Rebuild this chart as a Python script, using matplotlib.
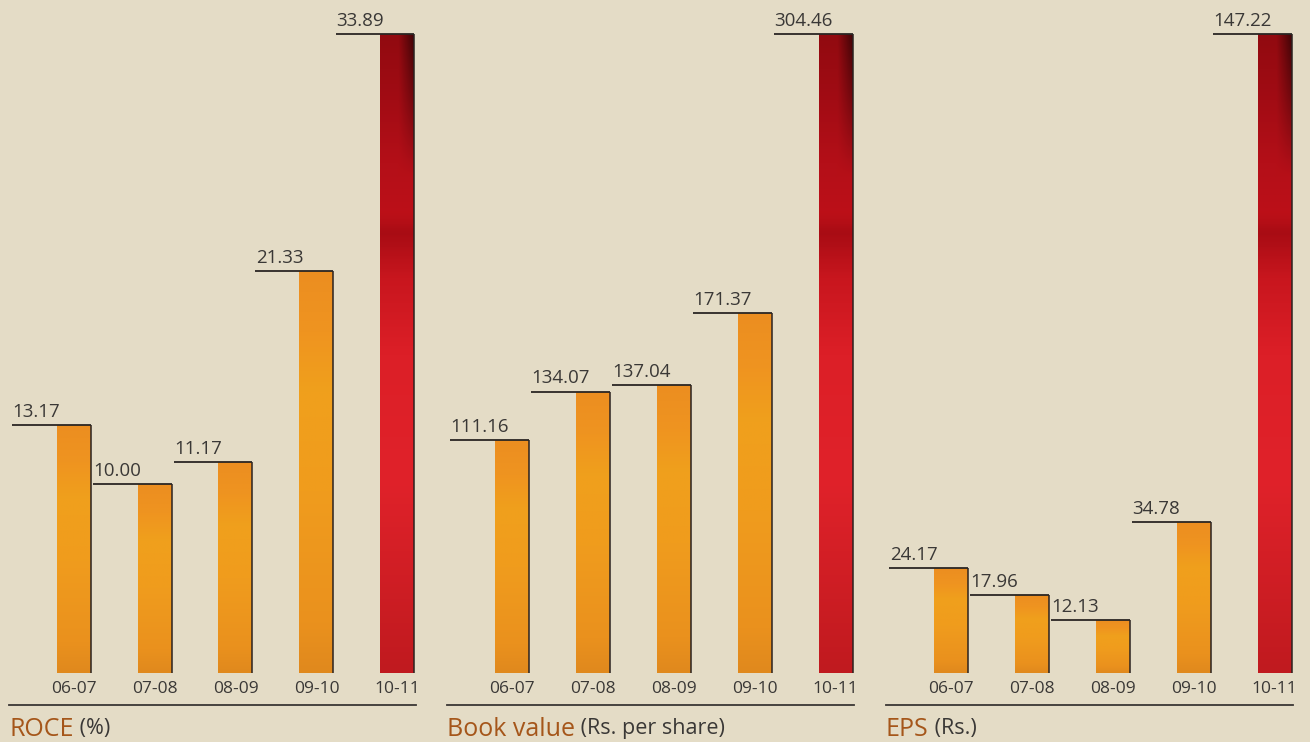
import numpy as np
import matplotlib
matplotlib.use("Agg")
import matplotlib.pyplot as plt
from matplotlib.colors import LinearSegmentedColormap

plt.rcParams['font.family'] = ['Open Sans', 'DejaVu Sans']

years = ["06-07", "07-08", "08-09", "09-10", "10-11"]
roce = [13.17, 10.00, 11.17, 21.33, 33.89]
book_value = [111.16, 134.07, 137.04, 171.37, 304.46]
eps = [24.17, 17.96, 12.13, 34.78, 147.22]
titles = ["ROCE", "Book value", "EPS"]
units = ["(%)", "(Rs. per share)", "(Rs.)"]
series = [roce, book_value, eps]

BG = "#e4dcc6"
TXT = "#3a3836"
TITLE = "#a5561a"

W, H = 1310, 742
fig = plt.figure(figsize=(W / 100, H / 100), dpi=100, facecolor=BG)

orange_cmap = LinearSegmentedColormap.from_list(
    "og", [(0.0, "#e0891d"), (0.12, "#ea911e"), (0.45, "#f09c1d"),
           (0.7, "#f0a01c"), (0.85, "#ef9420"), (1.0, "#ec8e20")])
red_cmap = LinearSegmentedColormap.from_list(
    "rd", [(0.0, "#c01a1f"), (0.3, "#e0222a"), (0.5, "#dc1f27"),
           (0.62, "#c8161e"), (0.69, "#a80c14"), (0.72, "#bc1018"),
           (0.8, "#b40f18"), (0.9, "#a20c14"), (1.0, "#920a10")])

panel_left = [9, 447, 886]
panel_w = 407
base_px = 69
top_px = 708
spacing = 81.0
bw = 34 / spacing
x0 = (9 - 73.5) / spacing
x1 = x0 + panel_w / spacing

for p in range(3):
    vals = series[p]
    ax = fig.add_axes([panel_left[p] / W, base_px / H, panel_w / W, (top_px - base_px) / H])
    ax.patch.set_alpha(0)
    ax.set_xlim(x0, x1)
    vmax = max(vals)
    ax.set_ylim(0, vmax)
    for s in ax.spines.values():
        s.set_visible(False)
    ax.set_yticks([])
    xs = np.arange(len(years))
    bars = ax.bar(xs, vals, width=bw, color="#ee961f", zorder=2)
    for i, (b, v) in enumerate(zip(bars, vals)):
        last = i == len(vals) - 1
        gy = np.linspace(0, 1, 200)[:, None]
        gx = np.linspace(0, 1, 40)[None, :]
        img = np.tile(gy, (1, 40))
        if last:
            rgba = red_cmap(img)
            streak = np.clip((gx - 0.55) / 0.45, 0, 1) * np.clip((gy - 0.78) / 0.22, 0, 1) * 0.55
            rgba[..., :3] = rgba[..., :3] * (1 - streak[..., None])
        else:
            rgba = orange_cmap(img)
        im = ax.imshow(rgba, extent=[i - bw / 2, i + bw / 2, 0, v], origin="lower",
                       aspect="auto", zorder=3, interpolation="bilinear")
        im.set_clip_path(b)
        ax.plot([i + bw / 2, i + bw / 2], [0, v], color="#2a2220", lw=1.1, zorder=4,
                solid_capstyle="butt")
        lx = i - 0.76
        ax.plot([lx, i + bw / 2], [v, v], color="#2a2624", lw=1.3, zorder=4,
                clip_on=False, solid_capstyle="butt")
        ax.annotate(f"{v:.2f}", xy=(lx, v), xytext=(0.5, 3), textcoords="offset points",
                    ha="left", va="bottom", fontsize=13.5, color=TXT,
                    annotation_clip=False)
    ax.set_xticks(xs)
    ax.set_xticklabels(years, fontsize=12.5, color=TXT)
    ax.tick_params(axis="x", length=0, pad=6)
    ysep = (37 - base_px) / (top_px - base_px)
    ax.plot([0, 1], [ysep, ysep], transform=ax.transAxes, color="#3a3634", lw=1.3,
            clip_on=False)
    t = fig.text(panel_left[p] / W, 13 / H, titles[p], fontsize=18, color=TITLE,
                 ha="left", va="center")
    fig.canvas.draw()
    ax.annotate(" " + units[p], xy=(1, 0.1), xycoords=t, ha="left", va="bottom",
                fontsize=15.5, color=TXT, annotation_clip=False)

fig.savefig("out.png", dpi=100, facecolor=BG)
